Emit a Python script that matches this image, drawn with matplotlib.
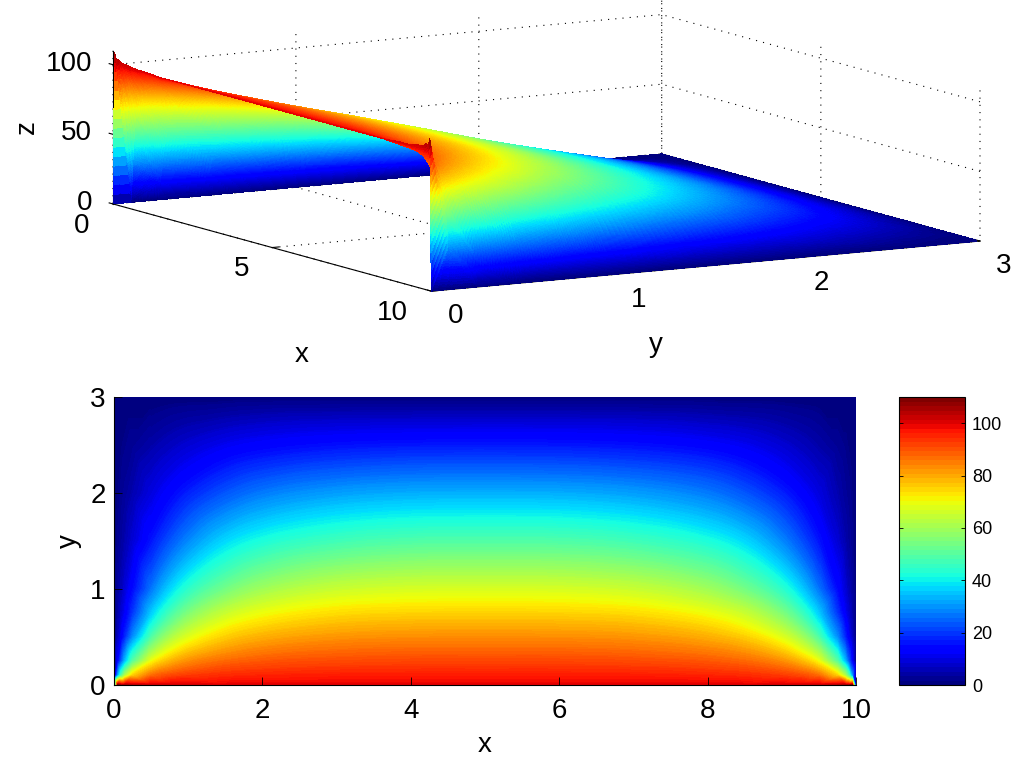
import numpy as np
import matplotlib
matplotlib.use("Agg")
import matplotlib.pyplot as plt
import matplotlib.tri as mtri
from mpl_toolkits.mplot3d import proj3d

plt.rcParams['font.family'] = ['Liberation Sans', 'DejaVu Sans']
plt.rcParams['axes.linewidth'] = 0.8

x_vals = [0, .05, .1, .15, .25, .5, .75, 1, 1.5, 2, 3, 4, 5, 6, 7, 8, 8.5, 9, 9.25, 9.5, 9.75, 9.85, 9.9, 9.95, 10]
y_vals = [0, .1, .25, .5, .75, 1, 1.5, 2, 2.5, 3]

z_y000 = [0, 109, 103.5, 105, 103, 102, 101, 101, 100, 100, 100, 100, 100, 100, 100, 100, 100, 101, 101, 102, 103, 105, 103.5, 109, 0]
z_y010 = [0, 29.5, 50, 62.5, 75.7, 87.2, 91.2, 93.1, 95, 95.8, 96.5, 96.7, 96.7, 96.7, 96.5, 95.8, 95, 93.1, 91.2, 87.2, 75.7, 62.5, 50, 29.5, 0]
z_y025 = [0, 12.6, 24.1, 34.2, 49.7, 69.8, 78.5, 83.2, 87.6, 89.6, 91.1, 91.7, 91.7, 91.7, 91.1, 89.6, 87.6, 83.2, 78.5, 69.8, 49.7, 34.2, 24.1, 12.6, 0]
z_y050 = [0, 6.3, 12.3, 18.2, 28.9, 48.7, 60.7, 68, 75.8, 79.5, 82.5, 83.4, 83.6, 83.4, 82.5, 79.5, 75.8, 68, 60.7, 48.7, 28.9, 18.2, 12.3, 6.3, 0]
z_y075 = [0, 4.2, 8, 12, 19.5, 35.5, 47, 55.2, 64.9, 69.8, 74, 75.2, 75.4, 75.2, 74, 69.8, 64.9, 55.2, 47, 35.5, 19.5, 12, 8, 4.2, 0]
z_y100 = [0, 3, 5.8, 8.7, 14.3, 26.4, 36.6, 44.3, 53.8, 59.7, 65, 66.8, 67, 66.8, 65, 59.7, 53.8, 44.3, 36.6, 26.4, 14.3, 8.7, 5.8, 3, 0]
z_y150 = [0, 1.65, 3.3, 4.9, 8.2, 15.8, 22.7, 28.5, 37.1, 42.1, 46.9, 48.9, 49.2, 48.9, 46.9, 42.1, 37.1, 28.5, 22.7, 15.8, 8.2, 4.9, 3.3, 1.65, 0]
z_y200 = [0, .95, 1.9, 2.9, 4.8, 9.3, 13.4, 17.2, 23, 27, 30.8, 32.4, 32.7, 32.4, 30.8, 27, 23, 17.2, 13.4, 9.3, 4.8, 2.9, 1.9, .95, 0]
z_y250 = [0, .45, .9, 1.35, 2.2, 4.3, 6.3, 8.1, 11.1, 13.1, 15.2, 16.1, 16.3, 16.1, 15.2, 13.1, 11.1, 8.1, 6.3, 4.3, 2.2, 1.35, .9, .45, 0]
z_y300 = [0] * 25

z_rows = [z_y000, z_y010, z_y025, z_y050, z_y075, z_y100, z_y150, z_y200, z_y250, z_y300]

x_ticks_3d = [0, 5, 10]
y_ticks_3d = [0, 1, 2, 3]
z_ticks_3d = [0, 50, 100]
x_ticks_2d = [0, 2, 4, 6, 8, 10]
y_ticks_2d = [0, 1, 2, 3]
cbar_ticks = [0, 20, 40, 60, 80, 100]

X, Y = np.meshgrid(np.array(x_vals, float), np.array(y_vals, float))
Z = np.array(z_rows, float)
ZMAX = 110
W, H = 1025, 762
cmap = plt.get_cmap('jet', 128)
cmap_bar = plt.get_cmap('jet', 64)

fig = plt.figure(figsize=(W / 100, H / 100), dpi=100, facecolor='white')

# Smooth rendering of the read table; close to the singular edges stay piecewise linear
tri = mtri.Triangulation(X.ravel(), Y.ravel())
refiner = mtri.UniformTriRefiner(tri)
cubic = mtri.CubicTriInterpolator(tri, Z.ravel(), kind='geom')
linear = mtri.LinearTriInterpolator(tri, Z.ravel())
tri_f, z_c = refiner.refine_field(Z.ravel(), triinterpolator=cubic, subdiv=4)
_, z_l = refiner.refine_field(Z.ravel(), triinterpolator=linear, subdiv=4)
near_edge = (tri_f.x < 0.5) | (tri_f.x > 9.5) | (tri_f.y < 0.1)
z_f = np.clip(np.where(near_edge, z_l, z_c), 0, ZMAX)

# ---------- 3D surface ----------
ax3 = fig.add_axes([0.1, 0.4, 0.6, 0.6 * W / H], projection='3d', proj_type='ortho')
ax3.set_facecolor('none')
ax3.view_init(elev=9.1, azim=-30)
ax3.set_box_aspect((636, 633, 155))
ax3.plot_trisurf(tri_f, z_f, cmap=cmap, vmin=0, vmax=ZMAX, linewidth=0,
                 antialiased=False, shade=False)
ax3.set_xlim(0, 10)
ax3.set_ylim(0, 3)
ax3.set_zlim(0, ZMAX)
ax3.set_xticks(x_ticks_3d)
ax3.set_yticks(y_ticks_3d)
ax3.set_zticks(z_ticks_3d)
ax3.grid(True)
for axis in (ax3.xaxis, ax3.yaxis, ax3.zaxis):
    axis.set_pane_color((1, 1, 1, 0))
    axis.pane.set_edgecolor((1, 1, 1, 0))
    axis.line.set_linewidth(0.8)
    axis._axinfo['tick']['inward_factor'] = 0
    axis._axinfo['tick']['outward_factor'] = 0.15
    axis._axinfo['grid']['color'] = 'black'
    axis._axinfo['grid']['linewidth'] = 0.8
    axis._axinfo['grid']['linestyle'] = (0, (1, 5.5))
    axis.set_tick_params(labelsize=20, pad=6)
ax3.zaxis.set_tick_params(pad=0)
ax3.yaxis.set_tick_params(pad=9)
ax3.zaxis._axinfo['juggled'] = (1, 2, 0)
for t in ax3.xaxis.get_major_ticks():
    t.label1.set_ha('right')
for t in ax3.yaxis.get_major_ticks():
    t.label1.set_ha('left')
for t in ax3.zaxis.get_major_ticks():
    t.label1.set_ha('right')
    t.label1.set_va('center')
fig.text(302 / W, 1 - 355 / H, 'x', fontsize=20, ha='center', va='center')
fig.text(656 / W, 1 - 345 / H, 'y', fontsize=20, ha='center', va='center')
fig.text(27 / W, 1 - 127 / H, 'z', fontsize=20, ha='center', va='center', rotation=90)


def px(p):
    fig.canvas.draw()
    u, v, _ = proj3d.proj_transform(p[0], p[1], p[2], ax3.get_proj())
    a, b = ax3.transData.transform((u, v))
    return np.array([a, b])


t0 = np.array([113.0, H - 205.0])
t1 = np.array([980.0, H - 240.0])
for _ in range(3):
    p0 = px((0, 0, 0))
    p1 = px((10, 3, 0))
    s = abs(t1[0] - t0[0]) / abs(p1[0] - p0[0])
    pos = ax3.get_position(original=True)
    side = pos.width * W * s
    l = pos.x0 * W
    b = pos.y0 * H
    cx, cy = l + pos.width * W / 2, b + pos.height * H / 2
    mid = (p0 + p1) / 2
    tm = (t0 + t1) / 2
    cx2 = tm[0] + (cx - mid[0]) * s
    cy2 = tm[1] + (cy - mid[1]) * s
    ax3.set_position([(cx2 - side / 2) / W, (cy2 - side / 2) / H, side / W, side / H])

# ---------- filled contour ----------
ax2 = fig.add_axes([114 / W, (H - 685) / H, 742 / W, 288 / H])
levels = np.linspace(0, ZMAX, 221)
cs = ax2.tricontourf(tri_f, np.clip(z_f, 0.001, ZMAX - 0.001), levels=levels, cmap=cmap, vmin=0, vmax=ZMAX)
ax2.set_xlim(0, 10)
ax2.set_ylim(0, 3)
ax2.set_xticks(x_ticks_2d)
ax2.set_yticks(y_ticks_2d)
ax2.tick_params(direction='in', length=6, width=0.6, labelsize=20)
ax2.tick_params(axis='x', pad=9)
ax2.tick_params(axis='y', pad=6)
ax2.spines['top'].set_visible(False)
ax2.spines['right'].set_visible(False)
ax2.set_xlabel('x', fontsize=20, labelpad=6)
ax2.set_ylabel('y', fontsize=20, labelpad=6)

# ---------- colorbar ----------
cax = fig.add_axes([899 / W, (H - 685) / H, 66 / W, 288 / H])
sm = plt.cm.ScalarMappable(norm=plt.Normalize(0, ZMAX), cmap=cmap_bar)
cb = fig.colorbar(sm, cax=cax, ticks=cbar_ticks)
cb.ax.tick_params(direction='in', length=3, width=0.6, labelsize=13, left=True, right=True, pad=5)
cb.outline.set_linewidth(0.8)

fig.savefig('out.png', dpi=100, facecolor='white')
